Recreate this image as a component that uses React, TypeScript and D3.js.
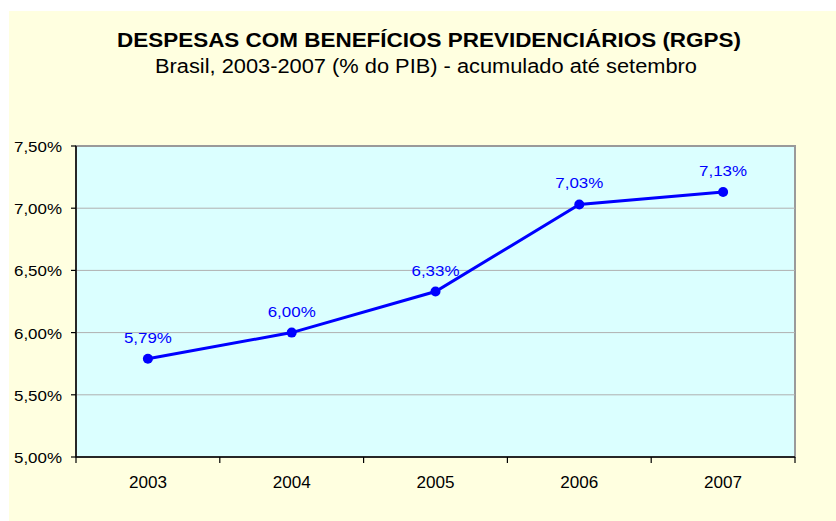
import React from 'react';
import * as d3 from 'd3';

const YEARS = ['2003', '2004', '2005', '2006', '2007'];
const VALUES = [5.79, 6.0, 6.33, 7.03, 7.13];
const Y_TICKS = [5.0, 5.5, 6.0, 6.5, 7.0, 7.5];

const W = 836;
const H = 521;
const plot = { left: 76, top: 146, right: 795, bottom: 457 };

const fmt = (v: number, d = 2) => v.toFixed(d).replace('.', ',') + '%';

export default function App() {
  const x = d3.scaleBand().domain(YEARS).range([plot.left, plot.right]);
  const y = d3.scaleLinear().domain([5, 7.5]).range([plot.bottom, plot.top]);
  const cx = (d: string) => (x(d) as number) + x.bandwidth() / 2;

  const line = d3.line<number>()
    .x((d, i) => cx(YEARS[i]))
    .y(d => y(d));

  const font = 'Liberation Sans, Arial, sans-serif';
  const boundaries = d3.range(YEARS.length + 1).map(i => plot.left + i * x.bandwidth());

  // the source picture is a bit stretched sideways, so labels get a fixed width
  return (
    <svg width={W} height={H} style={{ position: 'absolute', left: 0, top: 0 }} fontFamily={font}>
      <rect x={9} y={11} width={W - 9} height={H - 11} fill="#FFFFE0" />
      <text x={429} y={47} textAnchor="middle" fontSize={20.5} fontWeight="bold" fill="#000"
        textLength={624} lengthAdjust="spacingAndGlyphs">
        DESPESAS COM BENEFÍCIOS PREVIDENCIÁRIOS (RGPS)
      </text>
      <text x={426} y={73} textAnchor="middle" fontSize={20} fill="#000"
        textLength={542} lengthAdjust="spacingAndGlyphs">
        Brasil, 2003-2007 (% do PIB) - acumulado até setembro
      </text>

      <rect x={plot.left} y={plot.top} width={plot.right - plot.left} height={plot.bottom - plot.top}
        fill="#DBFFFF" stroke="#9a9a9a" strokeWidth={2} />

      {Y_TICKS.slice(1, -1).map(t => (
        <line key={t} x1={plot.left} x2={plot.right} y1={y(t)} y2={y(t)} stroke="#b0b0b0" strokeWidth={1} />
      ))}

      <line x1={plot.left} x2={plot.left} y1={plot.top} y2={plot.bottom} stroke="#000" strokeWidth={1.5} />
      <line x1={plot.left} x2={plot.right} y1={plot.bottom} y2={plot.bottom} stroke="#000" strokeWidth={1.5} />

      {Y_TICKS.map(t => (
        <g key={t}>
          <line x1={plot.left - 5} x2={plot.left} y1={y(t)} y2={y(t)} stroke="#000" strokeWidth={1.2} />
          <text x={plot.left - 14} y={y(t) + 6} textAnchor="end" fontSize={15.5} fill="#000"
            textLength={48} lengthAdjust="spacingAndGlyphs">{fmt(t)}</text>
        </g>
      ))}

      {boundaries.map(b => (
        <line key={b} x1={b} x2={b} y1={plot.bottom} y2={plot.bottom + 6} stroke="#000" strokeWidth={1.2} />
      ))}
      {YEARS.map(yr => (
        <text key={yr} x={cx(yr)} y={plot.bottom + 31} textAnchor="middle" fontSize={16} fill="#000"
          textLength={38} lengthAdjust="spacingAndGlyphs">{yr}</text>
      ))}

      <path d={line(VALUES) || ''} fill="none" stroke="#0000FF" strokeWidth={3} />
      {VALUES.map((v, i) => (
        <g key={i}>
          <circle cx={cx(YEARS[i])} cy={y(v)} r={5} fill="#0000FF" />
          <text x={cx(YEARS[i])} y={y(v) - 16} textAnchor="middle" fontSize={15.5} fill="#0000FF"
            textLength={48} lengthAdjust="spacingAndGlyphs">{fmt(v)}</text>
        </g>
      ))}
    </svg>
  );
}
